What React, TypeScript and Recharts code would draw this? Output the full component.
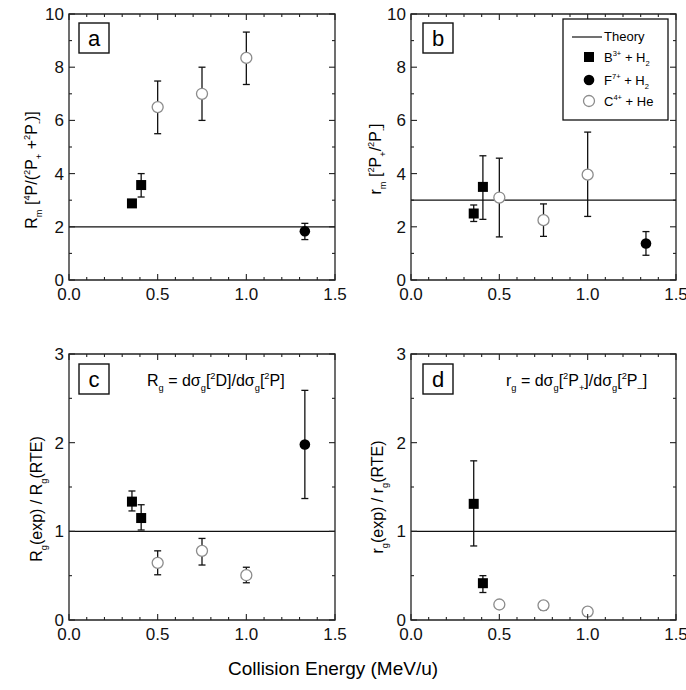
import React from 'react'
import { ScatterChart, Scatter, XAxis, YAxis, ErrorBar, ReferenceLine, ReferenceArea } from 'recharts'

const FONT = '"Liberation Sans", Arial, Helvetica, sans-serif'

// collision energy (MeV/u) of each projectile series
const energyB = [0.355, 0.407]
const energyF = [1.33]
const energyC = [0.5, 0.75, 1.0]

// tick values
const xTicks = [0, 0.1, 0.2, 0.3, 0.4, 0.5, 0.6, 0.7, 0.8, 0.9, 1.0, 1.1, 1.2, 1.3, 1.4, 1.5]
const xLabels = [0, 0.5, 1.0, 1.5]
const yTicksM = [0, 1, 2, 3, 4, 5, 6, 7, 8, 9, 10]
const yLabelsM = [0, 2, 4, 6, 8, 10]
const yTicksG = [0, 0.5, 1, 1.5, 2, 2.5, 3]
const yLabelsG = [0, 1, 2, 3]

// panel a: R_m
const aB = [2.88, 3.57]
const aBLow = [2.8, 3.12]
const aBHigh = [2.96, 4.0]
const aF = [1.83]
const aFLow = [1.52]
const aFHigh = [2.13]
const aC = [6.5, 7.0, 8.35]
const aCLow = [5.5, 6.0, 7.35]
const aCHigh = [7.48, 8.0, 9.32]

// panel b: r_m
const bB = [2.5, 3.5]
const bBLow = [2.2, 2.28]
const bBHigh = [2.82, 4.67]
const bF = [1.37]
const bFLow = [0.93]
const bFHigh = [1.82]
const bC = [3.1, 2.25, 3.96]
const bCLow = [1.62, 1.64, 2.39]
const bCHigh = [4.58, 2.86, 5.56]

// panel c: R_g(exp)/R_g(RTE)
const cB = [1.335, 1.15]
const cBLow = [1.23, 1.015]
const cBHigh = [1.455, 1.3]
const cF = [1.98]
const cFLow = [1.37]
const cFHigh = [2.59]
const cC = [0.645, 0.78, 0.505]
const cCLow = [0.51, 0.62, 0.42]
const cCHigh = [0.78, 0.92, 0.595]

// panel d: r_g(exp)/r_g(RTE)
const dB = [1.31, 0.415]
const dBLow = [0.835, 0.31]
const dBHigh = [1.795, 0.5]
const dC = [0.175, 0.165, 0.095]
const dCLow = [0.13, 0.115, 0.045]
const dCHigh = [0.215, 0.205, 0.135]

// theory values (horizontal lines)
const theoryA = 2
const theoryB = 3
const theoryC = 1
const theoryD = 1

type Pt = { x: number; y: number; err: [number, number] }

const points = (xs: number[], ys: number[], lo: number[], hi: number[]): Pt[] =>
  xs.map((x, i) => ({ x, y: ys[i], err: [ys[i] - lo[i], hi[i] - ys[i]] }))

const Square = (p: any) => <rect x={p.cx - 5} y={p.cy - 5} width={10} height={10} fill="#000" />
const Dot = (p: any) => <circle cx={p.cx} cy={p.cy} r={5.3} fill="#000" />
const Ring = (p: any) => (
  <circle cx={p.cx} cy={p.cy} r={5.5} fill="#fff" stroke="#8c8c8c" strokeWidth={1.3} />
)

type Seg = [string, ('sub' | 'sup')?]

function Rich({ segs, size, ...rest }: { segs: Seg[]; size: number; [k: string]: any }) {
  let shift = 0
  return (
    <text fontFamily={FONT} fontSize={size} fill="#000" {...rest}>
      {segs.map(([t, k], i) => {
        const target = k === 'sub' ? size * 0.32 : k === 'sup' ? -size * 0.45 : 0
        const dy = target - shift
        shift = target
        return (
          <tspan key={i} dy={dy} fontSize={k ? size * 0.58 : size}>
            {t}
          </tspan>
        )
      })}
    </text>
  )
}

type PanelProps = {
  left: number
  top: number
  height: number
  mTop: number
  mRight: number
  yWidth: number
  yMax: number
  yTicks: number[]
  yLabels: number[]
  theory: number
  b: Pt[]
  f?: Pt[]
  c: Pt[]
}

function Panel({ left, top, height, mTop, mRight, yWidth, yMax, yTicks, yLabels, theory, b, f, c }: PanelProps) {
  const width = 343
  const plotRight = width - mRight
  const plotBottom = height - 40

  const xTick = (p: any) => {
    const v = p.payload.value
    const major = xLabels.some((m) => Math.abs(m - v) < 1e-6)
    const len = major ? 6 : 3
    return (
      <g>
        <line x1={p.x} x2={p.x} y1={plotBottom} y2={plotBottom - len} stroke="#222" strokeWidth={1.1} />
        <line x1={p.x} x2={p.x} y1={mTop} y2={mTop + len} stroke="#222" strokeWidth={1.1} />
        {major && (
          <text x={p.x} y={plotBottom + 20} textAnchor="middle" fontFamily={FONT} fontSize={17} fill="#111">
            {v.toFixed(1)}
          </text>
        )}
      </g>
    )
  }

  const yTick = (p: any) => {
    const v = p.payload.value
    const major = yLabels.includes(v)
    const len = major ? 6 : 3
    const xl = yWidth
    return (
      <g>
        <line x1={xl} x2={xl + len} y1={p.y} y2={p.y} stroke="#222" strokeWidth={1.1} />
        <line x1={plotRight} x2={plotRight - len} y1={p.y} y2={p.y} stroke="#222" strokeWidth={1.1} />
        {major && (
          <text x={xl - 5} y={p.y} dy={6} textAnchor="end" fontFamily={FONT} fontSize={17} fill="#111">
            {v}
          </text>
        )}
      </g>
    )
  }

  return (
    <div style={{ position: 'absolute', left, top }}>
      <ScatterChart width={width} height={height} margin={{ top: mTop, right: mRight, bottom: 0, left: 0 }}>
        <XAxis
          type="number"
          dataKey="x"
          domain={[0, 1.5]}
          ticks={xTicks}
          interval={0}
          height={40}
          tickSize={0}
          tickMargin={0}
          tickLine={false}
          axisLine={false}
          tick={xTick}
        />
        <YAxis
          type="number"
          dataKey="y"
          domain={[0, yMax]}
          ticks={yTicks}
          interval={0}
          width={yWidth}
          tickSize={0}
          tickMargin={0}
          tickLine={false}
          axisLine={false}
          tick={yTick}
        />
        <ReferenceArea x1={0} x2={1.5} y1={0} y2={yMax} fill="none" stroke="#222" strokeWidth={1.3} />
        <ReferenceLine y={theory} stroke="#111" strokeWidth={1.3} />
        <Scatter data={c} shape={Ring} isAnimationActive={false}>
          <ErrorBar dataKey="err" direction="y" width={3.5} stroke="#111" strokeWidth={1.3} isAnimationActive={false} />
        </Scatter>
        <Scatter data={b} shape={Square} isAnimationActive={false}>
          <ErrorBar dataKey="err" direction="y" width={3.5} stroke="#111" strokeWidth={1.3} isAnimationActive={false} />
        </Scatter>
        {f && (
          <Scatter data={f} shape={Dot} isAnimationActive={false}>
            <ErrorBar dataKey="err" direction="y" width={3.5} stroke="#111" strokeWidth={1.3} isAnimationActive={false} />
          </Scatter>
        )}
      </ScatterChart>
    </div>
  )
}

function LetterBox({ x, y, letter }: { x: number; y: number; letter: string }) {
  return (
    <g>
      <rect x={x} y={y} width={30} height={30} fill="#fff" stroke="#111" strokeWidth={1.4} />
      <text x={x + 15} y={y + 23} textAnchor="middle" fontFamily={FONT} fontSize={22} fill="#000">
        {letter}
      </text>
    </g>
  )
}

export default function App() {
  return (
    <div style={{ position: 'absolute', left: 0, top: 0, width: 686, height: 690, background: '#fff', overflow: 'hidden' }}>
      <style>{'.recharts-surface { overflow: visible; }'}</style>
      <Panel
        left={0}
        top={0}
        height={320}
        mTop={14}
        mRight={8}
        yWidth={69}
        yMax={10}
        yTicks={yTicksM}
        yLabels={yLabelsM}
        theory={theoryA}
        b={points(energyB, aB, aBLow, aBHigh)}
        f={points(energyF, aF, aFLow, aFHigh)}
        c={points(energyC, aC, aCLow, aCHigh)}
      />
      <Panel
        left={343}
        top={0}
        height={320}
        mTop={14}
        mRight={10}
        yWidth={68}
        yMax={10}
        yTicks={yTicksM}
        yLabels={yLabelsM}
        theory={theoryB}
        b={points(energyB, bB, bBLow, bBHigh)}
        f={points(energyF, bF, bFLow, bFHigh)}
        c={points(energyC, bC, bCLow, bCHigh)}
      />
      <Panel
        left={0}
        top={320}
        height={340}
        mTop={34}
        mRight={8}
        yWidth={69}
        yMax={3}
        yTicks={yTicksG}
        yLabels={yLabelsG}
        theory={theoryC}
        b={points(energyB, cB, cBLow, cBHigh)}
        f={points(energyF, cF, cFLow, cFHigh)}
        c={points(energyC, cC, cCLow, cCHigh)}
      />
      <Panel
        left={343}
        top={320}
        height={340}
        mTop={34}
        mRight={10}
        yWidth={68}
        yMax={3}
        yTicks={yTicksG}
        yLabels={yLabelsG}
        theory={theoryD}
        b={points(energyB, dB, dBLow, dBHigh)}
        c={points(energyC, dC, dCLow, dCHigh)}
      />
      <svg width={686} height={690} style={{ position: 'absolute', left: 0, top: 0, pointerEvents: 'none' }}>
        <LetterBox x={79} y={23} letter="a" />
        <LetterBox x={423} y={23} letter="b" />
        <LetterBox x={79} y={364} letter="c" />
        <LetterBox x={423} y={364} letter="d" />

        <Rich
          size={16}
          textAnchor="middle"
          transform="translate(37,170) rotate(-90)"
          segs={[['R'], ['m', 'sub'], [' ['], ['4', 'sup'], ['P/('], ['2', 'sup'], ['P'], ['+', 'sub'], [' +'], ['2', 'sup'], ['P'], ['-', 'sub'], [')]']]}
        />
        <Rich
          size={16}
          textAnchor="middle"
          transform="translate(381,159) rotate(-90)"
          segs={[['r'], ['m', 'sub'], [' ['], ['2', 'sup'], ['P'], ['+', 'sub'], ['/'], ['2', 'sup'], ['P'], ['-', 'sub'], [']']]}
        />
        <Rich
          size={16}
          textAnchor="middle"
          transform="translate(42,499) rotate(-90)"
          segs={[['R'], ['g', 'sub'], ['(exp) / R'], ['g', 'sub'], ['(RTE)']]}
        />
        <Rich
          size={16}
          textAnchor="middle"
          transform="translate(383,497) rotate(-90)"
          segs={[['r'], ['g', 'sub'], ['(exp) / r'], ['g', 'sub'], ['(RTE)']]}
        />

        <Rich
          size={16}
          x={147}
          y={386}
          segs={[['R'], ['g', 'sub'], [' = d\u03c3'], ['g', 'sub'], ['['], ['2', 'sup'], ['D]/d\u03c3'], ['g', 'sub'], ['['], ['2', 'sup'], ['P]']]}
        />
        <Rich
          size={16}
          x={506}
          y={386}
          segs={[['r'], ['g', 'sub'], [' = d\u03c3'], ['g', 'sub'], ['['], ['2', 'sup'], ['P'], ['+', 'sub'], [']/d\u03c3'], ['g', 'sub'], ['['], ['2', 'sup'], ['P'], ['\u2013', 'sub'], [']']]}
        />

        <g>
          <rect x={563} y={19} width={105} height={101} fill="#fff" stroke="#111" strokeWidth={1.3} />
          <line x1={572} x2={602} y1={37} y2={37} stroke="#111" strokeWidth={1.2} />
          <text x={604} y={41} fontFamily={FONT} fontSize={13} fill="#000">Theory</text>
          <rect x={584} y={52} width={10} height={10} fill="#000" />
          <Rich size={13} x={604} y={62} segs={[['B'], ['3+', 'sup'], [' + H'], ['2', 'sub']]} />
          <circle cx={589} cy={80} r={5.3} fill="#000" />
          <Rich size={13} x={604} y={85} segs={[['F'], ['7+', 'sup'], [' + H'], ['2', 'sub']]} />
          <circle cx={589} cy={101} r={5.5} fill="#fff" stroke="#8c8c8c" strokeWidth={1.3} />
          <Rich size={13} x={604} y={106} segs={[['C'], ['4+', 'sup'], [' + He']]} />
        </g>

        <text x={333} y={675} textAnchor="middle" fontFamily={FONT} fontSize={19} fill="#000">
          Collision Energy (MeV/u)
        </text>
      </svg>
    </div>
  )
}
